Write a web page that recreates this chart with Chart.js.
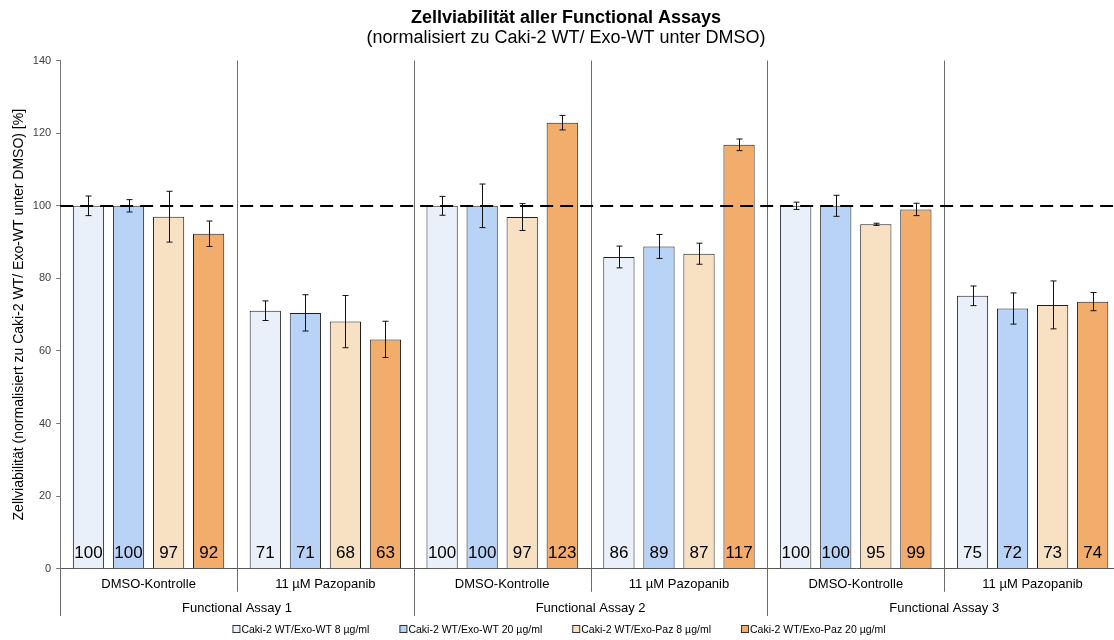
<!DOCTYPE html>
<html>
<head>
<meta charset="utf-8">
<script src="https://cdn.jsdelivr.net/npm/chart.js@4/dist/chart.umd.min.js"></script>
<style>
  body { margin: 0; overflow: hidden; background: #fff; }
  #wrap { width: 1134px; height: 640px; }
</style>
</head>
<body>
<div id="wrap"><canvas id="viability-chart"></canvas></div>
<script>
// Categories and groups
const categories = ["DMSO-Kontrolle", "11 µM Pazopanib", "DMSO-Kontrolle", "11 µM Pazopanib", "DMSO-Kontrolle", "11 µM Pazopanib"];
const assays = ["Functional Assay 1", "Functional Assay 2", "Functional Assay 3"];
const seriesNames = ["Caki-2 WT/Exo-WT 8 µg/ml", "Caki-2 WT/Exo-WT 20 µg/ml", "Caki-2 WT/Exo-Paz 8 µg/ml", "Caki-2 WT/Exo-Paz 20 µg/ml"];
const seriesColors = ["#E9F0FA", "#B8D3F5", "#F8E1C2", "#F2AC6B"];

// Mean values (%)
const exoWt8 = [100, 71.1, 100, 85.9, 100, 75.2];
const exoWt20 = [100, 70.5, 100, 88.8, 100, 71.7];
const exoPaz8 = [97, 68.1, 96.9, 86.8, 94.9, 72.7];
const exoPaz20 = [92.3, 63.2, 122.9, 116.8, 99, 73.6];

// Standard deviations
const errWt8 = [2.7, 2.7, 2.6, 3.0, 1.0, 2.7];
const errWt20 = [1.7, 5.0, 6.0, 3.3, 2.9, 4.3];
const errPaz8 = [7.0, 7.2, 3.7, 2.9, 0.3, 6.6];
const errPaz20 = [3.5, 5.0, 2.0, 1.6, 1.7, 2.5];

const yTicks = [0, 20, 40, 60, 80, 100, 120, 140];
const referenceLine = 100;

const values = [exoWt8, exoWt20, exoPaz8, exoPaz20];
const errors = [errWt8, errWt20, errPaz8, errPaz20];
const FONT = "'Liberation Sans', Arial, sans-serif";

// Group separators in plot and axis area
const separatorPlugin = {
  id: "separators",
  beforeDatasetsDraw(chart) {
    const ctx = chart.ctx;
    const x = chart.scales.x;
    const x2 = chart.scales.x2;
    const area = chart.chartArea;
    const step = (x.right - x.left) / categories.length;
    ctx.save();
    ctx.strokeStyle = "#6b6b6b";
    ctx.lineWidth = 1;
    for (let i = 0; i <= categories.length; i++) {
      const px = Math.round(x.left + i * step) + 0.5;
      ctx.beginPath();
      if (i > 0 && i < categories.length) {
        ctx.moveTo(px, area.top);
        ctx.lineTo(px, area.bottom);
      }
      ctx.moveTo(px, area.bottom);
      // subgroup lines stop under the first label row, assay lines run further
      ctx.lineTo(px, i % 2 === 0 ? x2.bottom : area.bottom + 23);
      ctx.stroke();
    }
    ctx.restore();
  },
};

// Error bars, value labels and the dashed 100 % line
const overlayPlugin = {
  id: "overlay",
  afterDatasetsDraw(chart) {
    const ctx = chart.ctx;
    const y = chart.scales.y;
    const area = chart.chartArea;
    ctx.save();
    chart.data.datasets.forEach((ds, di) => {
      const meta = chart.getDatasetMeta(di);
      meta.data.forEach((bar, i) => {
        const v = ds.data[i];
        const e = errors[di][i];
        const top = y.getPixelForValue(v + e);
        const bot = y.getPixelForValue(v - e);
        const bx = Math.round(bar.x) + 0.5;
        ctx.strokeStyle = "#111";
        ctx.lineWidth = 1;
        ctx.beginPath();
        ctx.moveTo(bx, top); ctx.lineTo(bx, bot);
        ctx.moveTo(bx - 3, top); ctx.lineTo(bx + 3, top);
        ctx.moveTo(bx - 3, bot); ctx.lineTo(bx + 3, bot);
        ctx.stroke();
        // value label at bar base
        ctx.fillStyle = "#000";
        ctx.font = "17px " + FONT;
        ctx.textAlign = "center";
        ctx.textBaseline = "middle";
        ctx.fillText(String(Math.round(v)), bar.x, y.getPixelForValue(0) - 15);
      });
    });
    const ry = Math.round(y.getPixelForValue(referenceLine));
    ctx.strokeStyle = "#000";
    ctx.lineWidth = 2;
    ctx.setLineDash([13, 7]);
    ctx.beginPath();
    ctx.moveTo(area.left, ry);
    ctx.lineTo(area.right, ry);
    ctx.stroke();
    ctx.restore();
  },
};

// Legend drawn at the bottom
const legendPlugin = {
  id: "bottomLegend",
  afterDraw(chart) {
    const ctx = chart.ctx;
    ctx.save();
    ctx.font = "10.5px " + FONT;
    const gap = 30;
    const widths = seriesNames.map((n) => 9 + ctx.measureText(n).width);
    const total = widths.reduce((a, b) => a + b, 0) + gap * (seriesNames.length - 1);
    let px = chart.width / 2 - total / 2 - 8;
    const cy = 630;
    seriesNames.forEach((name, i) => {
      ctx.fillStyle = seriesColors[i];
      ctx.fillRect(px + 0.5, cy - 4.5, 7, 7);
      ctx.strokeStyle = "#333";
      ctx.lineWidth = 1;
      ctx.strokeRect(px + 0.5, cy - 4.5, 7, 7);
      ctx.fillStyle = "#000";
      ctx.textAlign = "left";
      ctx.textBaseline = "middle";
      ctx.fillText(name, px + 9, cy);
      px += widths[i] + gap;
    });
    ctx.restore();
  },
};

function renderChart() {
  const ctx = document.getElementById("viability-chart").getContext("2d");
  new Chart(ctx, {
    type: "bar",
    data: {
      labels: categories,
      datasets: seriesNames.map((name, i) => ({
        label: name,
        data: values[i],
        backgroundColor: seriesColors[i],
        borderColor: "#1e1e1e",
        borderWidth: 1,
        categoryPercentage: 0.906,
        barPercentage: 0.78,
      })),
    },
    options: {
      responsive: true,
      maintainAspectRatio: false,
      animation: false,
      layout: { padding: { left: 11, right: 13, bottom: 24, top: 0 } },
      plugins: {
        legend: { display: false },
        tooltip: { enabled: false },
        title: {
          display: true,
          text: "Zellviabilität aller Functional Assays",
          color: "#000",
          font: { family: FONT, size: 18, weight: "bold", lineHeight: 1.1 },
          padding: { top: 8, bottom: 0 },
        },
        subtitle: {
          display: true,
          text: "(normalisiert zu Caki-2 WT/ Exo-WT unter DMSO)",
          color: "#000",
          font: { family: FONT, size: 18, lineHeight: 1.1 },
          padding: { top: 0, bottom: 13 },
        },
      },
      scales: {
        x: {
          position: "bottom",
          grid: { display: false, drawTicks: false },
          border: { display: true, color: "#555", width: 1 },
          ticks: {
            color: "#000",
            font: { family: FONT, size: 13 },
            padding: 8,
            maxRotation: 0,
            autoSkip: false,
          },
        },
        x2: {
          type: "category",
          position: "bottom",
          labels: assays,
          offset: true,
          grid: { display: false, drawTicks: false },
          border: { display: false },
          ticks: {
            color: "#000",
            font: { family: FONT, size: 13 },
            padding: 0,
            maxRotation: 0,
          },
        },
        y: {
          min: 0,
          max: 140,
          afterBuildTicks: (scale) => {
            scale.ticks = yTicks.map((v) => ({ value: v }));
          },
          grid: { drawOnChartArea: false, drawTicks: true, tickLength: 4, color: "#777" },
          border: { display: true, color: "#777", width: 1 },
          ticks: {
            color: "#404040",
            font: { family: FONT, size: 11 },
            padding: 5,
          },
          title: {
            display: true,
            text: "Zellviabilität (normalisiert zu Caki-2 WT/ Exo-WT unter DMSO) [%]",
            color: "#000",
            font: { family: FONT, size: 14 },
            padding: { top: 0, bottom: 0 },
          },
        },
      },
    },
    plugins: [separatorPlugin, overlayPlugin, legendPlugin],
  });
}

renderChart();
</script>
</body>
</html>
